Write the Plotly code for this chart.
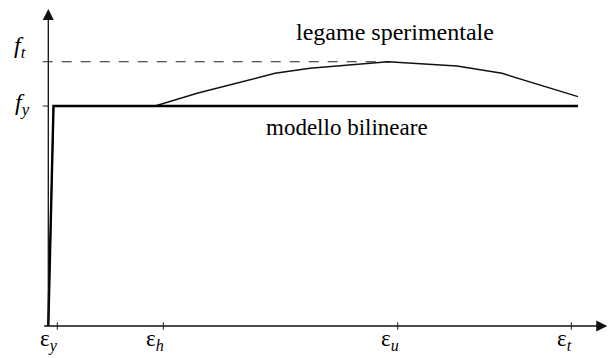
import plotly.graph_objects as go

# Characteristic strains (arbitrary schematic units along the strain axis)
strain_labels = ["ε<sub><i>y</i></sub>", "ε<sub><i>h</i></sub>", "ε<sub><i>u</i></sub>", "ε<sub><i>t</i></sub>"]
strain_ticks = [0.9, 11.5, 34.94, 52.3]

# Characteristic stresses
f_y = 22.0
f_t = 26.43

# Experimental stress-strain law (legame sperimentale)
exp_strain = [0.0, 0.52, 10.67, 14.97, 22.67, 26.17, 33.97, 40.87, 45.37, 48.87, 52.97]
exp_stress = [0.0, 22.0, 22.0, 23.3, 25.27, 25.77, 26.43, 26.0, 25.27, 24.17, 22.93]

# Bilinear model (modello bilineare)
bil_strain = [0.0, 0.52, 52.97]
bil_stress = [0.0, f_y, f_y]

X_MIN, X_MAX = -4.83, 55.97
Y_MIN, Y_MAX = -3.2, 32.6
AXIS_LEFT = -0.56      # where the strain axis and stress ticks start
X_ARROW = 55.9
Y_ARROW = 31.7
TICK_HALF = 0.37

SERIF = "Liberation Serif"

fig = go.Figure()

# dashed reference line at f_t up to the peak of the experimental curve
peak_i = exp_stress.index(max(exp_stress))
fig.add_trace(go.Scatter(
    x=[AXIS_LEFT, exp_strain[peak_i]], y=[f_t, f_t], mode="lines",
    line=dict(color="#222", width=1.1, dash="10px,9px"), hoverinfo="skip"))

# f_y tick on the stress axis
fig.add_trace(go.Scatter(
    x=[AXIS_LEFT, 0], y=[f_y, f_y], mode="lines",
    line=dict(color="#444", width=1.2), hoverinfo="skip"))

# ticks on the strain axis
for s in strain_ticks:
    fig.add_trace(go.Scatter(
        x=[s, s], y=[-TICK_HALF, TICK_HALF], mode="lines",
        line=dict(color="#333", width=1.1), hoverinfo="skip"))

fig.add_trace(go.Scatter(
    x=exp_strain, y=exp_stress, mode="lines",
    line=dict(color="#111", width=1.4), hoverinfo="skip"))

fig.add_trace(go.Scatter(
    x=bil_strain, y=bil_stress, mode="lines",
    line=dict(color="#000", width=2.4), hoverinfo="skip"))

annotations = []

# axes with arrow heads
annotations.append(dict(
    x=X_ARROW, y=0, ax=AXIS_LEFT, ay=0, xref="x", yref="y", axref="x", ayref="y",
    text="", showarrow=True, arrowhead=2, arrowsize=1.7, arrowwidth=1.3, arrowcolor="#111"))
annotations.append(dict(
    x=0, y=Y_ARROW, ax=0, ay=0, xref="x", yref="y", axref="x", ayref="y",
    text="", showarrow=True, arrowhead=2, arrowsize=1.7, arrowwidth=1.3, arrowcolor="#111"))

# strain labels
for lab, s in zip(strain_labels, strain_ticks):
    annotations.append(dict(
        x=s, y=0, xref="x", yref="y", text=lab, showarrow=False,
        xanchor="right", yanchor="top", xshift=3, yshift=2,
        font=dict(family=SERIF, size=23, color="#000")))

# stress labels
annotations.append(dict(
    x=AXIS_LEFT, y=f_t, xref="x", yref="y", text="<i>f<sub>t</sub></i>", showarrow=False,
    xanchor="right", yanchor="bottom", xshift=-15, yshift=-2,
    font=dict(family=SERIF, size=24, color="#000")))
annotations.append(dict(
    x=AXIS_LEFT, y=f_y, xref="x", yref="y", text="<i>f<sub>y</sub></i>", showarrow=False,
    xanchor="right", yanchor="middle", xshift=-11, yshift=2,
    font=dict(family=SERIF, size=24, color="#000")))

# curve names
annotations.append(dict(
    x=34.7, y=f_t, xref="x", yref="y", text="legame sperimentale", showarrow=False,
    xanchor="center", yanchor="bottom", yshift=15,
    font=dict(family=SERIF, size=24, color="#000")))
annotations.append(dict(
    x=29.9, y=f_y, xref="x", yref="y", text="modello bilineare", showarrow=False,
    xanchor="center", yanchor="top", yshift=-7,
    font=dict(family=SERIF, size=23, color="#000")))

fig.update_layout(
    width=608, height=358,
    margin=dict(l=0, r=0, t=0, b=0),
    paper_bgcolor="white", plot_bgcolor="white",
    showlegend=False,
    xaxis=dict(range=[X_MIN, X_MAX], visible=False, fixedrange=True),
    yaxis=dict(range=[Y_MIN, Y_MAX], visible=False, fixedrange=True),
    annotations=annotations,
)

fig.write_html("out.html")
